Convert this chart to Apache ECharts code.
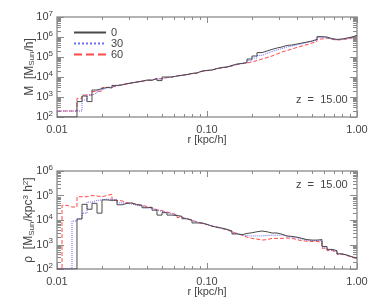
<!DOCTYPE html>
<html>
<head>
<meta charset="utf-8">
<script src="https://cdn.jsdelivr.net/npm/echarts@6/dist/echarts.min.js"></script>
<style>html,body{margin:0;padding:0;background:#fff}#c{width:374px;height:306px}</style>
</head>
<body>
<div id="c"></div>
<script>
// histogram bin edges in r [kpc/h] (60 log bins, 0.01 .. 1)
var rEdges = [0.01,0.01080,0.01166,0.01259,0.01359,0.01468,0.01585,0.01711,0.01848,0.01995,
  0.02154,0.02326,0.02512,0.02712,0.02929,0.03162,0.03415,0.03687,0.03981,0.04299,
  0.04642,0.05012,0.05412,0.05843,0.06310,0.06813,0.07356,0.07943,0.08577,0.09261,
  0.1,0.1080,0.1166,0.1259,0.1359,0.1468,0.1585,0.1711,0.1848,0.1995,
  0.2154,0.2326,0.2512,0.2712,0.2929,0.3162,0.3415,0.3687,0.3981,0.4299,
  0.4642,0.5012,0.5412,0.5843,0.6310,0.6813,0.7356,0.7943,0.8577,0.9261,1.0];
var seriesNames = ['0','30','60'];
// log10 M per bin (top panel)
var logM_0 = [2.0,2.0,2.0,2.0,2.77,3.05,2.77,3.35,3.42,3.48,
  3.45,3.58,3.6,3.67,3.7,3.75,3.78,3.85,3.83,3.93,
  3.82,4.0,4.0,4.05,4.08,4.12,4.18,4.2,4.3,4.33,
  4.35,4.42,4.48,4.5,4.58,4.65,4.68,4.72,4.9,5.05,
  5.22,5.3,5.38,5.45,5.5,5.58,5.6,5.65,5.7,5.75,
  5.8,5.88,6.02,6.0,5.92,5.88,5.9,5.95,6.0,6.08];
var logM_30 = [2.3,2.3,2.3,2.3,2.3,2.85,3.1,3.2,3.35,3.45,
  3.5,3.56,3.62,3.66,3.71,3.75,3.8,3.83,3.86,3.9,
  3.9,3.98,4.0,4.05,4.09,4.12,4.17,4.2,4.29,4.32,
  4.35,4.42,4.46,4.5,4.56,4.63,4.67,4.71,4.82,4.95,
  5.08,5.18,5.28,5.35,5.42,5.5,5.55,5.6,5.66,5.72,
  5.78,5.86,5.98,5.96,5.9,5.86,5.88,5.92,5.98,6.06];
var logM_60 = [2.3,2.3,2.3,2.3,2.93,3.1,3.1,3.27,3.3,3.48,
  3.5,3.55,3.62,3.65,3.72,3.75,3.8,3.82,3.87,3.9,
  3.92,3.97,4.0,4.05,4.1,4.12,4.17,4.2,4.28,4.32,
  4.35,4.42,4.45,4.5,4.55,4.62,4.67,4.7,4.75,4.82,
  4.9,4.97,5.05,5.15,5.25,5.32,5.4,5.48,5.55,5.62,
  5.7,5.78,5.9,5.95,5.88,5.85,5.87,5.9,5.95,6.05];
// log10 rho per bin (bottom panel)
var logRho_0 = [2.0,2.0,2.0,2.0,4.04,4.64,4.44,4.68,4.28,4.82,
  4.8,4.82,4.62,4.68,4.7,4.62,4.6,4.5,4.52,4.4,
  4.2,4.3,4.2,4.18,4.15,4.05,4.0,3.88,3.88,3.82,
  3.75,3.7,3.67,3.62,3.55,3.43,3.4,3.45,3.48,3.52,
  3.55,3.52,3.47,3.47,3.42,3.35,3.33,3.3,3.25,3.2,
  3.18,3.18,3.2,2.92,2.8,2.75,2.62,2.57,2.5,2.45];
var logRho_30 = [2.0,2.0,2.0,3.96,4.05,4.28,4.73,4.8,4.82,4.85,
  4.85,4.8,4.7,4.68,4.65,4.6,4.58,4.5,4.48,4.4,
  4.35,4.3,4.25,4.2,4.12,4.05,3.98,3.92,3.88,3.82,
  3.76,3.7,3.66,3.6,3.54,3.45,3.4,3.36,3.35,3.35,
  3.35,3.37,3.38,3.38,3.38,3.34,3.3,3.27,3.22,3.18,
  3.16,3.16,3.15,2.9,2.78,2.72,2.62,2.56,2.48,2.43];
var logRho_60 = [2.0,4.6,4.53,4.53,4.95,4.95,5.0,4.98,4.95,5.0,
  5.05,4.8,4.78,4.7,4.68,4.65,4.6,4.55,4.5,4.42,
  4.38,4.32,4.28,4.2,4.1,4.05,3.98,3.92,3.85,3.82,
  3.75,3.72,3.65,3.6,3.52,3.45,3.38,3.3,3.25,3.22,
  3.18,3.2,3.25,3.25,3.25,3.27,3.25,3.2,3.15,3.14,
  3.12,3.12,3.1,2.85,2.75,2.7,2.6,2.55,2.48,2.42];
var xTickLabels = ['0.01','0.10','1.00'];
var redshiftLabel = 'z  =  15.00';

var FONT = 'Liberation Sans';
var colors = ['#4a4a4a','#6a6aff','#ff4a4a'];
var types = ['solid','dotted','dashed'];

function stepData(logs){
  var d = [];
  for (var i = 0; i < logs.length; i++) d.push([rEdges[i], Math.pow(10, logs[i])]);
  d.push([rEdges[rEdges.length-1], Math.pow(10, logs[logs.length-1])]);
  return d;
}

function tickSeries(gi, ymin, ymax){
  var xMaj = [0.01,0.1,1], xMin = [];
  [0.01,0.1].forEach(function(b){ for (var k=2;k<=9;k++) xMin.push(b*k); });
  var yMaj = [], yMin = [];
  for (var e = Math.log10(ymin); e <= Math.log10(ymax)+1e-9; e++) {
    var b = Math.pow(10, e); yMaj.push(b);
    if (b < ymax) for (var k=2;k<=9;k++) yMin.push(b*k);
  }
  return {
    type: 'custom', xAxisIndex: gi, yAxisIndex: gi, silent: true, z: 1,
    data: [[0.01, ymin]],
    renderItem: function(params, api){
      var ch = [];
      var st = {stroke:'#8a8a8a', lineWidth:1};
      function L(x1,y1,x2,y2){ ch.push({type:'line', shape:{x1:x1,y1:y1,x2:x2,y2:y2}, style:st}); }
      var bl = api.coord([0.01, ymin]), tr = api.coord([1, ymax]);
      xMaj.concat(xMin).forEach(function(v, idx){
        var len = idx < xMaj.length ? 6 : 3;
        var x = Math.round(api.coord([v, ymin])[0]) + 0.5;
        L(x, bl[1], x, bl[1]-len); L(x, tr[1], x, tr[1]+len);
      });
      yMaj.concat(yMin).forEach(function(v, idx){
        var len = idx < yMaj.length ? 7 : 4;
        var y = Math.round(api.coord([0.01, v])[1]) + 0.5;
        L(bl[0], y, bl[0]+len, y); L(tr[0], y, tr[0]-len, y);
      });
      return {type:'group', children: ch};
    }
  };
}

var gridDefs = [
  {left:57, top:17, width:300, height:100, ymin:1e2, ymax:1e7},
  {left:57, top:171, width:300, height:98, ymin:1e2, ymax:1e6}
];
var yNames = ['M  [M{sub|Sun}/h]', '\u03c1  [M{sub|Sun}/kpc{sup|3} h{sup|2}]'];
var yNameGaps = [21, 21];

var option = {
  animation: false,
  backgroundColor: '#fff',
  textStyle: {fontFamily: FONT},
  grid: gridDefs.map(function(g){ return {left:g.left, top:g.top, width:g.width, height:g.height, show:true, borderColor:'#9a9a9a', borderWidth:1.5, containLabel:false}; }),
  legend: {
    data: seriesNames, orient: 'vertical', left: 68, top: 22,
    itemWidth: 32, itemHeight: 9, itemGap: 0,
    itemStyle: {opacity: 0},
    textStyle: {fontFamily: FONT, fontSize: 11, color: '#444', lineHeight: 10}
  },
  xAxis: gridDefs.map(function(g, i){
    return {
      type:'log', gridIndex:i, min:0.01, max:1, logBase:10,
      name:'r [kpc/h]', nameLocation:'middle', nameGap:17, nameMoveOverlap:false,
      nameTextStyle:{fontFamily:FONT, fontSize:11, color:'#444'},
      axisLine:{show:false}, axisTick:{show:false}, splitLine:{show:false},
      axisLabel:{fontFamily:FONT, fontSize:11, color:'#444', margin:7,
        formatter:function(v){ var e = Math.round(Math.log10(v)); return xTickLabels[e+2]; }}
    };
  }),
  yAxis: gridDefs.map(function(g, i){
    return {
      type:'log', gridIndex:i, min:g.ymin, max:g.ymax, logBase:10,
      name: yNames[i], nameLocation:'middle', nameGap: yNameGaps[i], nameRotate: 90, nameMoveOverlap:false,
      nameTextStyle:{fontFamily:FONT, fontSize:12, color:'#444',
        rich:{sub:{fontSize:8, verticalAlign:'bottom', padding:[4,0,0,0], fontFamily:FONT, color:'#444'},
              sup:{fontSize:8, verticalAlign:'top', padding:[0,0,6,0], fontFamily:FONT, color:'#444'}}},
      axisLine:{show:false}, axisTick:{show:false}, splitLine:{show:false},
      axisLabel:{fontFamily:FONT, fontSize:11, color:'#444', margin:4,
        formatter:function(v){ return '10{s|' + Math.round(Math.log10(v)) + '}'; },
        rich:{s:{fontSize:8, padding:[0,0,7,0], fontFamily:FONT, color:'#444'}}}
    };
  }),
  graphic: [
    {type:'text', left:296, top:94, style:{text:redshiftLabel, font:'11px ' + FONT, fill:'#444'}},
    {type:'text', left:296, top:179, style:{text:redshiftLabel, font:'11px ' + FONT, fill:'#444'}}
  ],
  series: []
};

var topData = [logM_0, logM_30, logM_60];
var botData = [logRho_0, logRho_30, logRho_60];
option.series.push(tickSeries(0, 1e2, 1e7));
option.series.push(tickSeries(1, 1e2, 1e6));
[topData, botData].forEach(function(set, gi){
  set.forEach(function(arr, k){
    option.series.push({
      type:'line', name: seriesNames[k], xAxisIndex:gi, yAxisIndex:gi,
      data: stepData(arr), step:'end', symbol:'none', showSymbol:false,
      lineStyle:{color:colors[k], width:1, type:types[k]}, itemStyle:{color:colors[k]},
      z: 3 - k + 2, clip:true
    });
  });
});

var chart = echarts.init(document.getElementById('c'), null, {renderer:'canvas'});
chart.setOption(option);
</script>
</body>
</html>
